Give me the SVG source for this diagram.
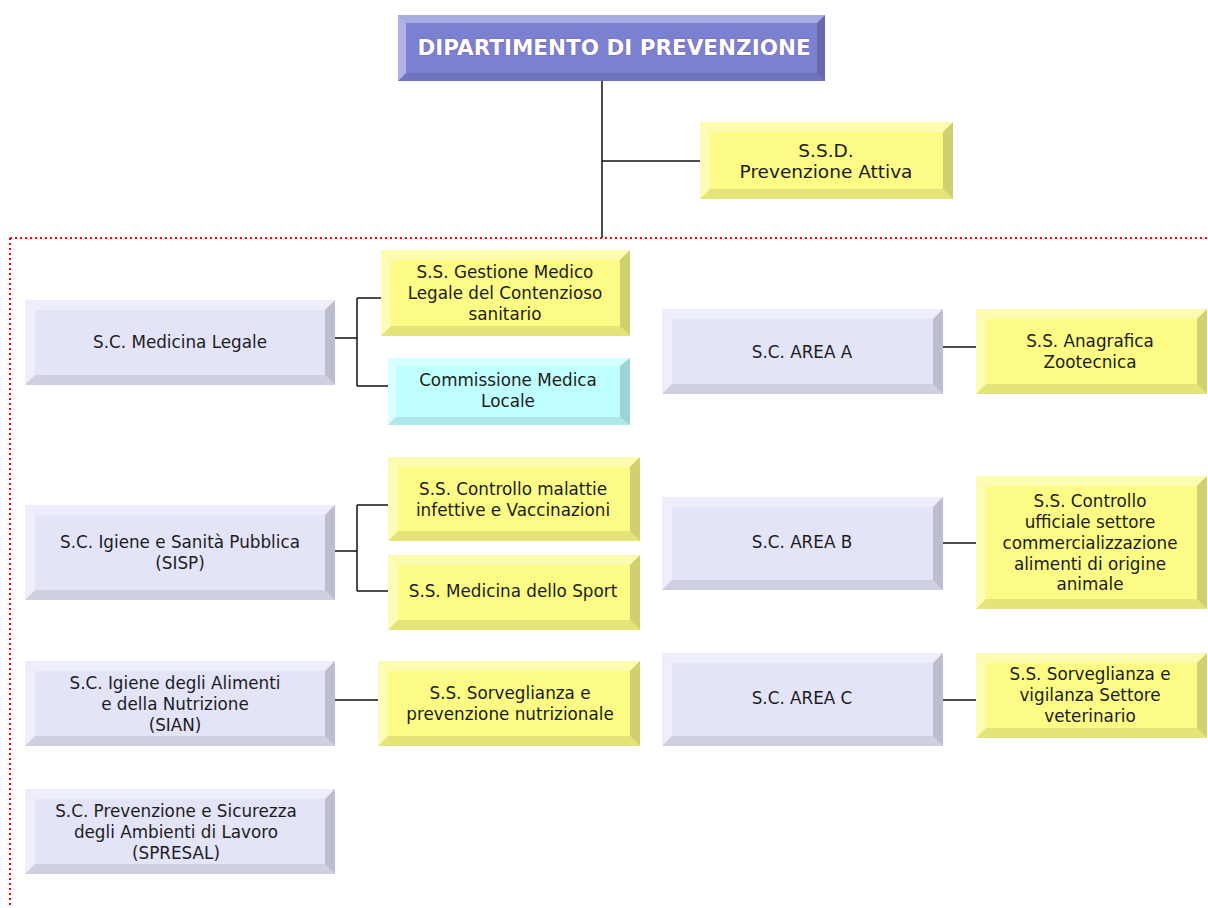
<svg xmlns="http://www.w3.org/2000/svg" width="1208" height="908" viewBox="0 0 1208 908">
<style>
.lav{fill:#e4e4f9}
.yel{fill:#fbfb86}
.cya{fill:#c0ffff}
.hdr{fill:#7c80d0}
.t{fill:#fff;fill-opacity:.35}
.l{fill:#fff;fill-opacity:.4}
.r{fill:#000;fill-opacity:.17}
.b{fill:#000;fill-opacity:.09}
text{font-family:"DejaVu Sans","Verdana",sans-serif;font-size:16.8px;fill:#1c1c1c;text-anchor:middle}
.ht{font-size:21.5px;font-weight:bold;fill:#fff;stroke:#6a4f9a;stroke-width:.6;paint-order:stroke}
.big{font-size:18.5px}
.conn{stroke:#111;stroke-width:1.5;fill:none}
.dot{stroke:#f00;stroke-width:2;stroke-dasharray:2 3;fill:none}
</style>
<rect width="1208" height="908" fill="#fff"/>
<g id="connectors">
<path class="conn" d="M602,81V238M602,161H700"/>
<path class="conn" d="M335,338H357M357,298V386M357,298H381M357,386H388"/>
<path class="conn" d="M943,347H976"/>
<path class="conn" d="M335,551H357M357,505V591M357,505H388M357,591H388"/>
<path class="conn" d="M943,543H976"/>
<path class="conn" d="M335,700H378"/>
<path class="conn" d="M943,700H976"/>
<path class="dot" d="M10,238H1208M10,238V908"/>
</g>
<g id="n-dip">
<rect class="hdr" x="398" y="15" width="427" height="66"/>
<polygon class="t" points="398,15 825,15 817,23 406,23"/>
<polygon class="l" points="398,15 406,23 406,73 398,81"/>
<polygon class="r" points="825,15 825,81 817,73 817,23"/>
<polygon class="b" points="398,81 406,73 817,73 825,81"/>
<text class="ht" x="614" y="55">DIPARTIMENTO DI PREVENZIONE</text>
</g>
<g id="n-ssd">
<rect class="yel" x="700" y="122" width="253" height="77"/>
<polygon class="t" points="700,122 953,122 943,132 710,132"/>
<polygon class="l" points="700,122 710,132 710,189 700,199"/>
<polygon class="r" points="953,122 953,199 943,189 943,132"/>
<polygon class="b" points="700,199 710,189 943,189 953,199"/>
<text class="big" x="826" y="157">S.S.D.</text>
<text class="big" x="826" y="178">Prevenzione Attiva</text>
</g>
<g id="n-medleg">
<rect class="lav" x="25" y="300" width="310" height="85"/>
<polygon class="t" points="25,300 335,300 325,310 35,310"/>
<polygon class="l" points="25,300 35,310 35,375 25,385"/>
<polygon class="r" points="335,300 335,385 325,375 325,310"/>
<polygon class="b" points="25,385 35,375 325,375 335,385"/>
<text x="180" y="348">S.C. Medicina Legale</text>
</g>
<g id="n-gestione">
<rect class="yel" x="381" y="250" width="249" height="86"/>
<polygon class="t" points="381,250 630,250 620,260 391,260"/>
<polygon class="l" points="381,250 391,260 391,326 381,336"/>
<polygon class="r" points="630,250 630,336 620,326 620,260"/>
<polygon class="b" points="381,336 391,326 620,326 630,336"/>
<text x="505" y="278">S.S. Gestione Medico</text>
<text x="505" y="299">Legale del Contenzioso</text>
<text x="505" y="320">sanitario</text>
</g>
<g id="n-commissione">
<rect class="cya" x="388" y="358" width="242" height="67"/>
<polygon class="t" points="388,358 630,358 620,366 396,366"/>
<polygon class="l" points="388,358 396,366 396,417 388,425"/>
<polygon class="r" points="630,358 630,425 620,417 620,366"/>
<polygon class="b" points="388,425 396,417 620,417 630,425"/>
<text x="508" y="386">Commissione  Medica</text>
<text x="508" y="407">Locale</text>
</g>
<g id="n-areaa">
<rect class="lav" x="662" y="309" width="281" height="85"/>
<polygon class="t" points="662,309 943,309 933,319 672,319"/>
<polygon class="l" points="662,309 672,319 672,384 662,394"/>
<polygon class="r" points="943,309 943,394 933,384 933,319"/>
<polygon class="b" points="662,394 672,384 933,384 943,394"/>
<text x="802" y="358">S.C. AREA  A</text>
</g>
<g id="n-anagrafica">
<rect class="yel" x="976" y="309" width="231" height="85"/>
<polygon class="t" points="976,309 1207,309 1197,319 986,319"/>
<polygon class="l" points="976,309 986,319 986,384 976,394"/>
<polygon class="r" points="1207,309 1207,394 1197,384 1197,319"/>
<polygon class="b" points="976,394 986,384 1197,384 1207,394"/>
<text x="1090" y="347">S.S. Anagrafica</text>
<text x="1090" y="368">Zootecnica</text>
</g>
<g id="n-sisp">
<rect class="lav" x="25" y="505" width="310" height="95"/>
<polygon class="t" points="25,505 335,505 325,515 35,515"/>
<polygon class="l" points="25,505 35,515 35,590 25,600"/>
<polygon class="r" points="335,505 335,600 325,590 325,515"/>
<polygon class="b" points="25,600 35,590 325,590 335,600"/>
<text x="180" y="548">S.C. Igiene  e Sanità Pubblica</text>
<text x="180" y="569">(SISP)</text>
</g>
<g id="n-malattie">
<rect class="yel" x="388" y="457" width="252" height="84"/>
<polygon class="t" points="388,457 640,457 630,467 398,467"/>
<polygon class="l" points="388,457 398,467 398,531 388,541"/>
<polygon class="r" points="640,457 640,541 630,531 630,467"/>
<polygon class="b" points="388,541 398,531 630,531 640,541"/>
<text x="513" y="495">S.S. Controllo  malattie</text>
<text x="513" y="516">infettive e Vaccinazioni</text>
</g>
<g id="n-sport">
<rect class="yel" x="388" y="555" width="252" height="75"/>
<polygon class="t" points="388,555 640,555 630,565 398,565"/>
<polygon class="l" points="388,555 398,565 398,620 388,630"/>
<polygon class="r" points="640,555 640,630 630,620 630,565"/>
<polygon class="b" points="388,630 398,620 630,620 640,630"/>
<text x="513" y="597">S.S. Medicina  dello  Sport</text>
</g>
<g id="n-areab">
<rect class="lav" x="662" y="497" width="281" height="93"/>
<polygon class="t" points="662,497 943,497 933,507 672,507"/>
<polygon class="l" points="662,497 672,507 672,580 662,590"/>
<polygon class="r" points="943,497 943,590 933,580 933,507"/>
<polygon class="b" points="662,590 672,580 933,580 943,590"/>
<text x="802" y="548">S.C. AREA  B</text>
</g>
<g id="n-ufficiale">
<rect class="yel" x="976" y="476" width="231" height="133"/>
<polygon class="t" points="976,476 1207,476 1197,486 986,486"/>
<polygon class="l" points="976,476 986,486 986,599 976,609"/>
<polygon class="r" points="1207,476 1207,609 1197,599 1197,486"/>
<polygon class="b" points="976,609 986,599 1197,599 1207,609"/>
<text x="1090" y="507">S.S. Controllo</text>
<text x="1090" y="528">ufficiale settore</text>
<text x="1090" y="549">commercializzazione</text>
<text x="1090" y="570">alimenti  di origine</text>
<text x="1090" y="590">animale</text>
</g>
<g id="n-sian">
<rect class="lav" x="25" y="661" width="310" height="85"/>
<polygon class="t" points="25,661 335,661 325,671 35,671"/>
<polygon class="l" points="25,661 35,671 35,736 25,746"/>
<polygon class="r" points="335,661 335,746 325,736 325,671"/>
<polygon class="b" points="25,746 35,736 325,736 335,746"/>
<text x="175" y="689">S.C. Igiene  degli  Alimenti</text>
<text x="175" y="710">e della Nutrizione</text>
<text x="175" y="731">(SIAN)</text>
</g>
<g id="n-nutrizionale">
<rect class="yel" x="378" y="661" width="262" height="85"/>
<polygon class="t" points="378,661 640,661 630,671 388,671"/>
<polygon class="l" points="378,661 388,671 388,736 378,746"/>
<polygon class="r" points="640,661 640,746 630,736 630,671"/>
<polygon class="b" points="378,746 388,736 630,736 640,746"/>
<text x="510" y="699">S.S. Sorveglianza  e</text>
<text x="510" y="720">prevenzione  nutrizionale</text>
</g>
<g id="n-areac">
<rect class="lav" x="662" y="653" width="281" height="93"/>
<polygon class="t" points="662,653 943,653 933,663 672,663"/>
<polygon class="l" points="662,653 672,663 672,736 662,746"/>
<polygon class="r" points="943,653 943,746 933,736 933,663"/>
<polygon class="b" points="662,746 672,736 933,736 943,746"/>
<text x="802" y="704">S.C. AREA  C</text>
</g>
<g id="n-vigilanza">
<rect class="yel" x="976" y="653" width="231" height="85"/>
<polygon class="t" points="976,653 1207,653 1197,663 986,663"/>
<polygon class="l" points="976,653 986,663 986,728 976,738"/>
<polygon class="r" points="1207,653 1207,738 1197,728 1197,663"/>
<polygon class="b" points="976,738 986,728 1197,728 1207,738"/>
<text x="1090" y="680">S.S. Sorveglianza  e</text>
<text x="1090" y="701">vigilanza  Settore</text>
<text x="1090" y="722">veterinario</text>
</g>
<g id="n-spresal">
<rect class="lav" x="25" y="789" width="310" height="85"/>
<polygon class="t" points="25,789 335,789 325,799 35,799"/>
<polygon class="l" points="25,789 35,799 35,864 25,874"/>
<polygon class="r" points="335,789 335,874 325,864 325,799"/>
<polygon class="b" points="25,874 35,864 325,864 335,874"/>
<text x="176" y="817">S.C. Prevenzione  e Sicurezza</text>
<text x="176" y="838">degli  Ambienti  di Lavoro</text>
<text x="176" y="859">(SPRESAL)</text>
</g>
</svg>
